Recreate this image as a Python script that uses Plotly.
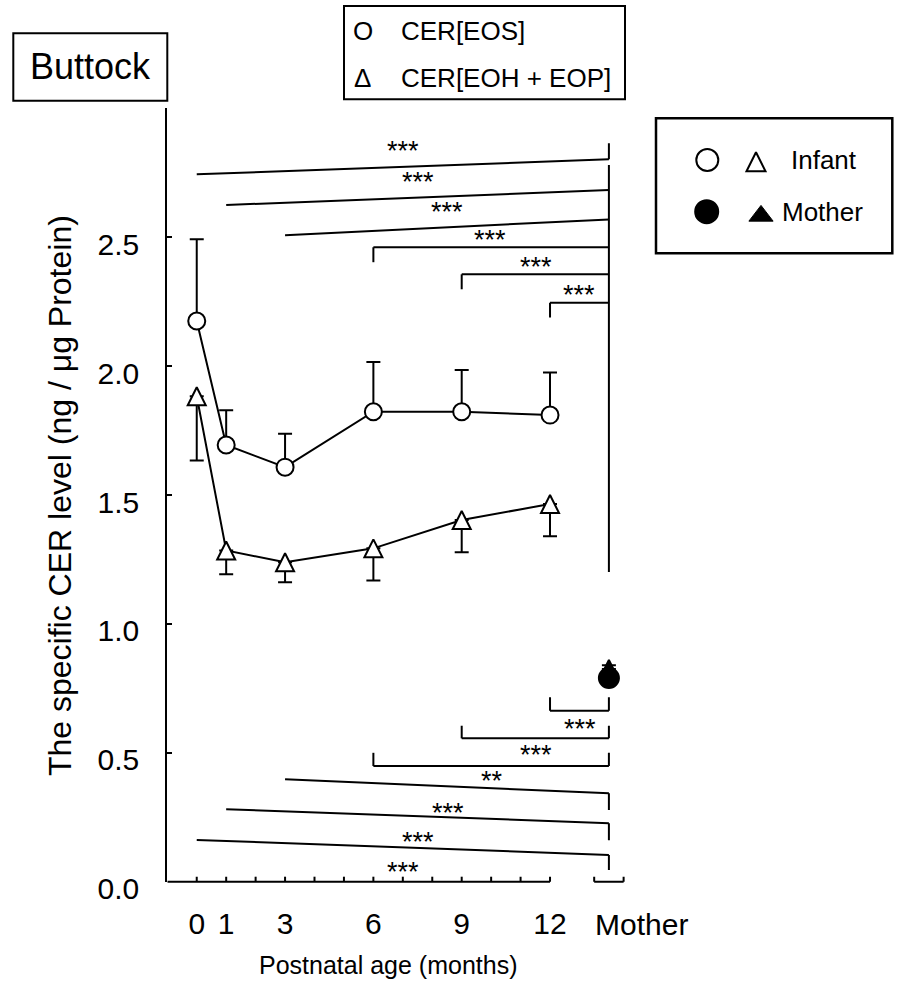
import plotly.graph_objects as go

W, H = 903, 992
FONT = "Liberation Sans, Arial, Helvetica, sans-serif"

# ---------------- data ----------------
months = [0, 1, 3, 6, 9, 12]
eos_mean = [2.175, 1.694, 1.608, 1.823, 1.823, 1.810]
eos_sd = [0.317, 0.135, 0.130, 0.193, 0.162, 0.165]
eoh_mean = [1.883, 1.285, 1.239, 1.293, 1.403, 1.465]
eoh_sd = [0.249, 0.092, 0.077, 0.125, 0.125, 0.125]

mother_x = [14]
mother_eos = [0.790]
mother_eos_sd = [0.050]
mother_eoh = [0.825]
mother_eoh_sd = [0.050]

x_tick_vals = [0, 1, 3, 6, 9, 12]
x_tick_text = ["0", "1", "3", "6", "9", "12"]
mother_label = "Mother"
y_tick_vals = [0, 0.5, 1.0, 1.5, 2.0, 2.5, 3.0]
y_tick_text = ["0.0", "0.5", "1.0", "1.5", "2.0", "2.5", ""]

# significance vs Mother
upper_from = [0, 1, 3, 6, 9, 12]
upper_labels = ["***", "***", "***", "***", "***", "***"]
lower_from = [12, 9, 6, 3, 1, 0]
lower_labels = ["***", "***", "**", "***", "***", "***"]

# ---------------- layout geometry ----------------
X_LEFT_PX, PX_PER_MONTH = 167.3, 29.44
Y_ZERO_PX, PX_PER_UNIT = 881.7, 257.8
x_range = [-1, 15]
y_range = [0, 3]


def fx(px):
    return px / W


def fy(py):
    return 1 - py / H


xdom = [fx(X_LEFT_PX), fx(X_LEFT_PX + (x_range[1] - x_range[0]) * PX_PER_MONTH)]
ydom = [fy(Y_ZERO_PX), fy(Y_ZERO_PX - (y_range[1] - y_range[0]) * PX_PER_UNIT)]

# bracket geometry (data units)
upper_left_y = [2.744, 2.625, 2.508, 2.461, 2.356, 2.246]
upper_right_y = [2.802, 2.683, 2.569, 2.461, 2.356, 2.246]
upper_leg_y = [None, None, None, 2.403, 2.298, 2.189]
upper_label_pos = [(7.0, 2.851), (7.5, 2.728), (8.51, 2.612), (9.96, 2.505), (11.51, 2.399), (13.0, 2.291)]
lower_left_y = [0.663, 0.556, 0.449, 0.397, 0.281, 0.162]
lower_right_y = [0.663, 0.556, 0.449, 0.343, 0.227, 0.104]
lower_leg_y = [0.715, 0.605, 0.500, 0.278, 0.161, 0.045]
lower_label_pos = [(13.02, 0.608), (11.53, 0.508), (10.02, 0.405), (8.53, 0.282), (7.53, 0.168), (7.02, 0.052)]
MOTHER_X = 14

shapes = []


def seg(x0, y0, x1, y1, xref="x", yref="y", w=2):
    shapes.append(dict(type="line", xref=xref, yref=yref, x0=x0, y0=y0, x1=x1, y1=y1,
                       line=dict(color="black", width=w)))


def rect(px0, py0, px1, py1, w=2):
    shapes.append(dict(type="rect", xref="paper", yref="paper",
                       x0=fx(px0), x1=fx(px1), y0=fy(py1), y1=fy(py0),
                       line=dict(color="black", width=w), fillcolor="rgba(0,0,0,0)"))


# x axis (broken) drawn as shapes
tick_top = ydom[0] + 5 / H
seg(-1, ydom[0], 12, ydom[0], yref="paper")
for m in range(0, 13):
    seg(m, ydom[0], m, tick_top, yref="paper")
seg(13.5, ydom[0], 14.5, ydom[0], yref="paper")
seg(13.5, ydom[0], 13.5, tick_top, yref="paper")
seg(14.5, ydom[0], 14.5, tick_top, yref="paper")

# upper brackets
for i, f in enumerate(upper_from):
    seg(f, upper_left_y[i], MOTHER_X, upper_right_y[i])
    if upper_leg_y[i] is not None:
        seg(f, upper_left_y[i], f, upper_leg_y[i])
seg(MOTHER_X, upper_right_y[0], MOTHER_X, 2.864)
seg(MOTHER_X, 1.201, MOTHER_X, 2.780)

# lower brackets
for i, f in enumerate(lower_from):
    seg(f, lower_left_y[i], MOTHER_X, lower_right_y[i])
    if lower_left_y[i] == lower_right_y[i]:
        seg(f, lower_left_y[i], f, lower_leg_y[i])
    seg(MOTHER_X, lower_right_y[i], MOTHER_X, lower_leg_y[i])

# boxes
rect(13.3, 33.3, 167.3, 100.7)
rect(344, 6, 625, 99.3)
rect(656, 118.3, 892.3, 253.3, w=2.5)

annotations = []


def ptext(text, px, py, size, xanchor="left", angle=0, xshift=0):
    annotations.append(dict(text=text, xref="paper", yref="paper", x=fx(px), y=fy(py),
                            xanchor=xanchor, yanchor="middle", showarrow=False, textangle=angle,
                            xshift=xshift,
                            font=dict(family=FONT, size=size, color="black")))


ptext("Buttock", 90.5, 67, 36, xanchor="center")
ptext("O", 362.5, 30.8, 26, xanchor="center")
ptext("CER[EOS]", 401.7, 30.8, 26, xshift=-3)
ptext("Δ", 362.8, 77.5, 26, xanchor="center")
ptext("CER[EOH + EOP]", 401.7, 77.5, 26, xshift=-3)
ptext("Infant", 791.7, 160, 26, xshift=-3)
ptext("Mother", 783.3, 211.7, 26, xshift=-3)
ptext("The specific CER level (ng / μg Protein)", 60, 496, 32, xanchor="center", angle=-90)
ptext("Postnatal age (months)", 388, 965, 25, xanchor="center")

# "Mother" category label, left aligned with the mother axis segment
annotations.append(dict(text=mother_label, xref="x", yref="paper", x=13.47, y=fy(924),
                        xanchor="left", yanchor="middle", showarrow=False, xshift=0,
                        font=dict(family=FONT, size=30, color="black")))

for (lx, ly), t in zip(upper_label_pos + lower_label_pos, upper_labels + lower_labels):
    annotations.append(dict(text=t, xref="x", yref="y", x=lx, y=ly, xanchor="center",
                            yanchor="middle", showarrow=False, yshift=-4,
                            font=dict(family=FONT, size=27, color="black")))

fig = go.Figure()

fig.add_trace(go.Scatter(
    x=months, y=eos_mean, mode="lines+markers", name="CER[EOS]",
    line=dict(color="black", width=2),
    marker=dict(symbol="circle", size=17, color="white", line=dict(color="black", width=2)),
    error_y=dict(type="data", array=eos_sd, arrayminus=[0] * len(eos_sd), symmetric=False,
                 color="black", thickness=2, width=7),
    xaxis="x", yaxis="y", cliponaxis=False))

fig.add_trace(go.Scatter(
    x=months, y=eoh_mean, mode="lines+markers", name="CER[EOH + EOP]",
    line=dict(color="black", width=2),
    marker=dict(symbol="arrow-down", angle=180, standoff=9, size=18, color="white",
                line=dict(color="black", width=2)),
    error_y=dict(type="data", array=[0] * len(eoh_sd), arrayminus=eoh_sd, symmetric=False,
                 color="black", thickness=2, width=7),
    xaxis="x", yaxis="y", cliponaxis=False))

fig.add_trace(go.Scatter(
    x=mother_x, y=mother_eoh, mode="markers", name="Mother CER[EOH + EOP]",
    marker=dict(symbol="arrow-down", angle=180, standoff=9, size=18, color="black",
                line=dict(color="black", width=2)),
    error_y=dict(type="data", array=[0], arrayminus=mother_eoh_sd, symmetric=False,
                 color="black", thickness=2, width=7),
    xaxis="x", yaxis="y", cliponaxis=False))

fig.add_trace(go.Scatter(
    x=mother_x, y=mother_eos, mode="markers", name="Mother CER[EOS]",
    marker=dict(symbol="circle", size=20, color="black", line=dict(color="black", width=2)),
    error_y=dict(type="data", array=mother_eos_sd, arrayminus=[0], symmetric=False,
                 color="black", thickness=2, width=7),
    xaxis="x", yaxis="y", cliponaxis=False))

# legend symbols (overlay pixel axes)
fig.add_trace(go.Scatter(x=[707.3], y=[160], mode="markers", xaxis="x2", yaxis="y2",
                         marker=dict(symbol="circle", size=22, color="white",
                                     line=dict(color="black", width=2))))
fig.add_trace(go.Scatter(x=[756], y=[161.7], mode="markers", xaxis="x2", yaxis="y2",
                         marker=dict(symbol="arrow-down", angle=180, standoff=9.5, size=19,
                                     color="white", line=dict(color="black", width=2))))
fig.add_trace(go.Scatter(x=[706.7], y=[211.7], mode="markers", xaxis="x2", yaxis="y2",
                         marker=dict(symbol="circle", size=23, color="black",
                                     line=dict(color="black", width=2))))
fig.add_trace(go.Scatter(x=[761], y=[215.9], mode="markers", xaxis="x2", yaxis="y2",
                         marker=dict(symbol="triangle-up", size=21, color="black",
                                     line=dict(color="black", width=1))))

fig.update_layout(
    template="none",
    width=W, height=H, margin=dict(l=0, r=0, t=0, b=0, pad=0, autoexpand=False),
    paper_bgcolor="white", plot_bgcolor="rgba(0,0,0,0)",
    showlegend=False, hovermode=False,
    font=dict(family=FONT, size=30, color="black"),
    xaxis=dict(domain=xdom, range=x_range, anchor="y", showline=False, showgrid=False,
               zeroline=False, ticks="", tickmode="array", tickvals=x_tick_vals,
               ticktext=x_tick_text, tickfont=dict(family=FONT, size=30, color="black"),
               tickangle=0, automargin=False, ticklabelstandoff=21, fixedrange=True),
    yaxis=dict(domain=ydom, range=y_range, anchor="x", showline=True, linewidth=2,
               linecolor="black", showgrid=False, zeroline=False, ticks="inside",
               ticklen=5, tickwidth=2, tickcolor="black", tickmode="array",
               tickvals=y_tick_vals, ticktext=y_tick_text,
               tickfont=dict(family=FONT, size=30, color="black"), automargin=False,
               ticklabelstandoff=20, ticklabelshift=7, fixedrange=True),
    xaxis2=dict(domain=[0, 1], range=[0, W], anchor="y2", visible=False, fixedrange=True,
                automargin=False),
    yaxis2=dict(domain=[0, 1], range=[H, 0], anchor="x2", visible=False, fixedrange=True,
                automargin=False),
    shapes=shapes, annotations=annotations,
)

fig.write_html("out.html")
